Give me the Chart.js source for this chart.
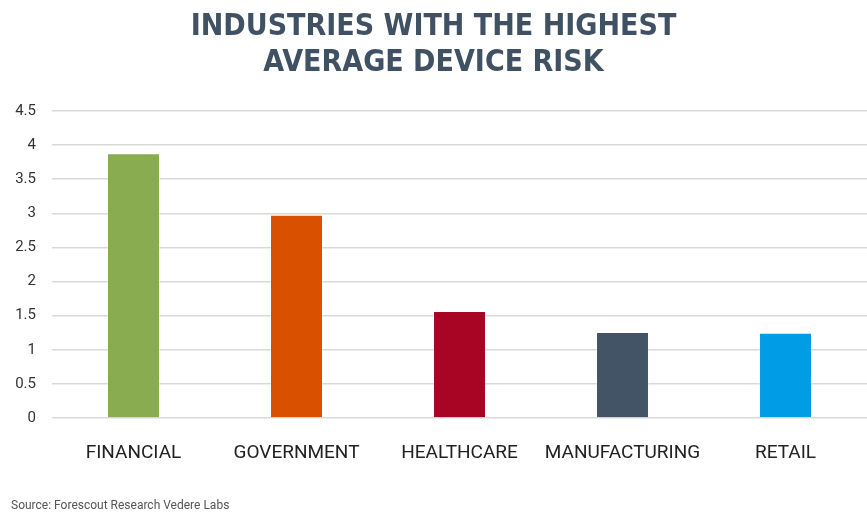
<!DOCTYPE html>
<html>
<head>
<meta charset="utf-8">
<script src="https://cdn.jsdelivr.net/npm/chart.js@4.4.0/dist/chart.umd.min.js"></script>
<style>
  html, body { margin: 0; padding: 0; background: #fff; }
  #wrap { position: relative; width: 867px; height: 512px; }
  #source {
    position: absolute; left: 11px; top: 498px;
    font-family: "Roboto", sans-serif; font-size: 12px; color: #555;
  }
</style>
</head>
<body>
<div id="wrap">
  <canvas id="risk-chart" width="867" height="512"></canvas>
  <div id="source">Source: Forescout Research Vedere Labs</div>
</div>
<script>
// Data
const industries = ["FINANCIAL", "GOVERNMENT", "HEALTHCARE", "MANUFACTURING", "RETAIL"];
const riskScores = [3.88, 2.98, 1.57, 1.26, 1.25];
const barColors = ["#8aac50", "#d95000", "#a80525", "#435466", "#009de6"];
const titleLines = ["INDUSTRIES WITH THE HIGHEST", "AVERAGE DEVICE RISK"];

const ctx = document.getElementById("risk-chart").getContext("2d");
const chart = new Chart(ctx, {
  type: "bar",
  data: {
    labels: industries,
    datasets: [{
      data: riskScores,
      backgroundColor: barColors,
      borderColor: "rgba(255,255,255,0.35)",
      borderWidth: 1,
      barPercentage: 0.325,
      categoryPercentage: 1
    }]
  },
  options: {
    responsive: false,
    animation: false,
    layout: { padding: { top: 0, right: 0, bottom: 0, left: 0 } },
    plugins: {
      legend: { display: false },
      tooltip: { enabled: false },
      title: {
        display: true,
        text: titleLines,
        color: "#3f5163",
        font: { family: "'DejaVu Sans Condensed', 'DejaVu Sans'", size: 30, weight: "bold", lineHeight: 1.2 },
        padding: { top: 9, bottom: 30 }
      }
    },
    scales: {
      x: {
        grid: { display: false },
        border: { display: false },
        ticks: {
          color: "#222",
          font: { family: "Roboto", size: 19 },
          padding: 16,
          maxRotation: 0
        },
        afterFit: (scale) => { scale.height = 94; }
      },
      y: {
        min: 0,
        max: 4.5,
        grid: { color: "#d9d9d9", lineWidth: 1.5, drawTicks: false },
        border: { display: false },
        ticks: {
          stepSize: 0.5,
          color: "#333",
          font: { family: "Roboto", size: 15 },
          padding: 16,
          callback: (v) => String(v)
        },
        afterFit: (scale) => { scale.width = 52; }
      }
    }
  }
});
</script>
</body>
</html>
